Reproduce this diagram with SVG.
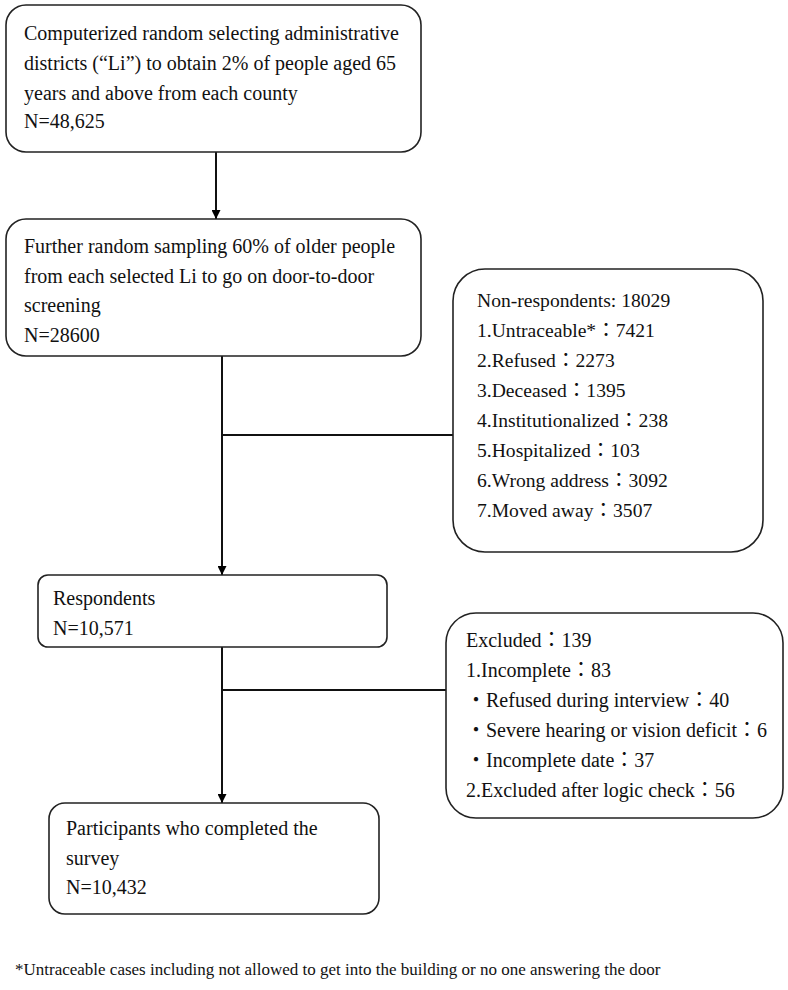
<svg xmlns="http://www.w3.org/2000/svg" width="788" height="990" viewBox="0 0 788 990">
<defs>
<marker id="arr" viewBox="0 0 10 10" refX="10" refY="5" markerWidth="9" markerHeight="9" markerUnits="userSpaceOnUse" orient="auto">
<path d="M0,0 L10,5 L0,10 Z" fill="#000"/>
</marker>
<style>
.box{fill:#fff;stroke:#222;stroke-width:1.6}
.t{font-family:"Liberation Serif","Noto Sans CJK TC",serif;font-size:20px;fill:#111}
.s{font-size:19.6px}
.f{font-family:"Liberation Serif","Noto Sans CJK TC",serif;font-size:17px;fill:#111}
.ln{stroke:#111;stroke-width:2;fill:none}
</style>
</defs>
<rect width="788" height="990" fill="#fff"/>
<g id="connectors">
<line class="ln" x1="216" y1="152" x2="216" y2="219" marker-end="url(#arr)"/>
<line class="ln" x1="222" y1="356" x2="222" y2="575" marker-end="url(#arr)"/>
<line class="ln" x1="222" y1="435" x2="453" y2="435"/>
<line class="ln" x1="222" y1="647" x2="222" y2="803" marker-end="url(#arr)"/>
<line class="ln" x1="222" y1="690" x2="446" y2="690"/>
</g>
<g id="n1">
<rect class="box" x="6" y="5" width="415" height="147" rx="20"/>
<text class="t" x="24" y="40">Computerized random selecting administrative</text>
<text class="t" x="24" y="70">districts (“Li”) to obtain 2% of people aged 65</text>
<text class="t" x="24" y="100">years and above from each county</text>
<text class="t" x="24" y="128">N=48,625</text>
</g>
<g id="n2">
<rect class="box" x="6" y="219" width="415" height="137" rx="20"/>
<text class="t" x="24" y="253">Further random sampling 60% of older people</text>
<text class="t" x="24" y="283">from each selected Li to go on door-to-door</text>
<text class="t" x="24" y="312">screening</text>
<text class="t" x="24" y="342">N=28600</text>
</g>
<g id="n3">
<rect class="box" x="453" y="269" width="310" height="283" rx="32"/>
<text class="t s" x="477" y="307">Non-respondents: 18029</text>
<text class="t s" x="477" y="337">1.Untraceable*：7421</text>
<text class="t s" x="477" y="367">2.Refused：2273</text>
<text class="t s" x="477" y="397">3.Deceased：1395</text>
<text class="t s" x="477" y="427">4.Institutionalized：238</text>
<text class="t s" x="477" y="457">5.Hospitalized：103</text>
<text class="t s" x="477" y="487">6.Wrong address：3092</text>
<text class="t s" x="477" y="517">7.Moved away：3507</text>
</g>
<g id="n4">
<rect class="box" x="38" y="575" width="349" height="72" rx="10"/>
<text class="t" x="53" y="605">Respondents</text>
<text class="t" x="53" y="635">N=10,571</text>
</g>
<g id="n5">
<rect class="box" x="446" y="613" width="337" height="205" rx="30"/>
<text class="t" x="466" y="647">Excluded：139</text>
<text class="t" x="466" y="677">1.Incomplete：83</text>
<text class="t" x="466" y="707">・Refused during interview：40</text>
<text class="t" x="466" y="737">・Severe hearing or vision deficit：6</text>
<text class="t" x="466" y="767">・Incomplete date：37</text>
<text class="t" x="466" y="797">2.Excluded after logic check：56</text>
</g>
<g id="n6">
<rect class="box" x="49" y="803" width="330" height="111" rx="16"/>
<text class="t" x="66" y="835">Participants who completed the</text>
<text class="t" x="66" y="865">survey</text>
<text class="t" x="66" y="894">N=10,432</text>
</g>
<text class="f" x="15" y="975">*Untraceable cases including not allowed to get into the building or no one answering the door</text>
</svg>
